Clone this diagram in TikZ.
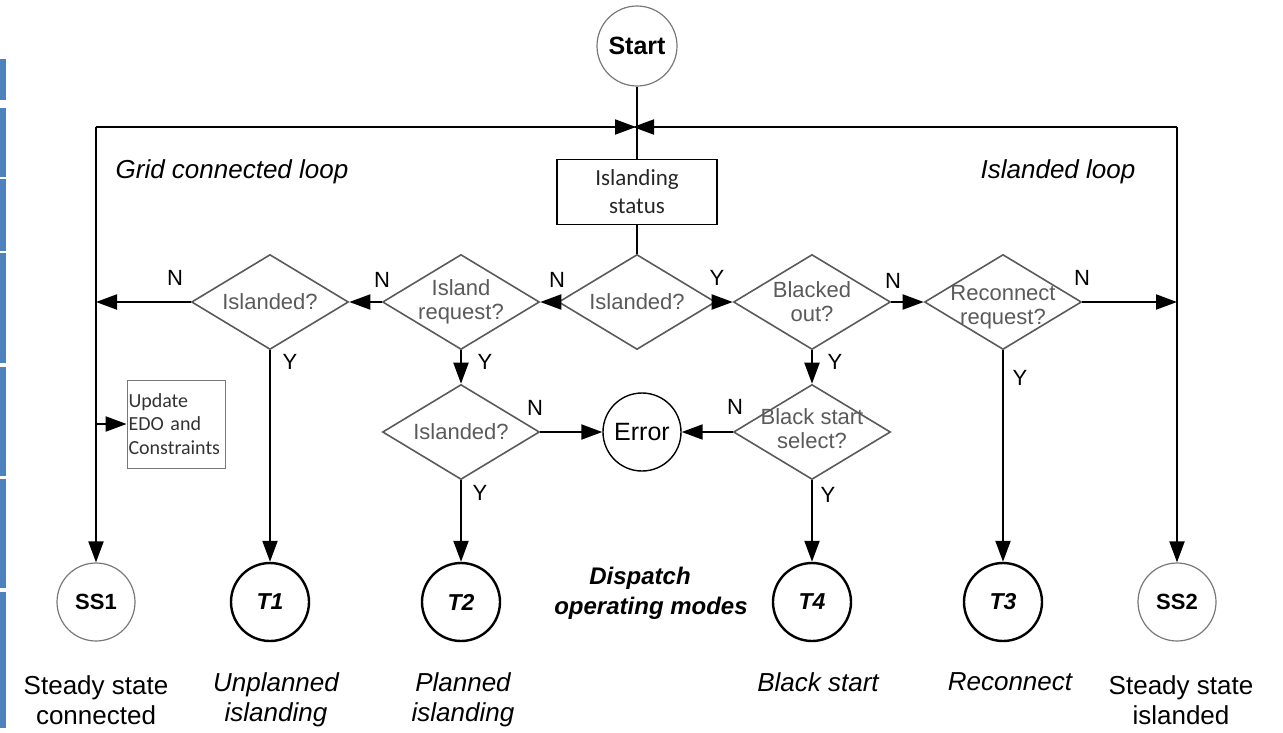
\documentclass[tikz,border=0pt]{standalone}
\usepackage{fontspec}
\setmainfont{Liberation Sans}
\newfontfamily\calib{Carlito}
\usetikzlibrary{shapes.geometric,arrows.meta}

\definecolor{stripblue}{RGB}{79,129,189}
\definecolor{diagray}{RGB}{90,90,90}
\definecolor{thingray}{RGB}{120,120,120}

\begin{document}
\begin{tikzpicture}[x=1pt,y=-1pt,
  flow/.style={line width=2pt,-{Triangle[length=21pt,width=15pt]}},
  plain/.style={line width=2pt},
  dia/.style={diamond,draw=diagray,line width=1.6pt,minimum width=157pt,minimum height=95pt,inner sep=0pt},
  diatext/.style={text=diagray,font=\fontsize{22}{24}\selectfont,align=center,inner sep=0pt},
  yn/.style={font=\fontsize{22}{24}\selectfont,inner sep=0pt},
  statecirc/.style={circle,draw=thingray,line width=1.2pt,minimum size=78pt,inner sep=0pt,font=\bfseries\fontsize{22}{24}\selectfont},
  modecirc/.style={circle,draw=black,line width=2.4pt,minimum size=78pt,inner sep=0pt,font=\bfseries\itshape\fontsize{23}{25}\selectfont},
  caption/.style={font=\fontsize{26}{30}\selectfont,align=center,inner sep=0pt},
  loopname/.style={font=\itshape\fontsize{26}{30}\selectfont,inner sep=0pt}
]
\useasboundingbox (0,0) rectangle (1283,732);

% blue side strip
\foreach \a/\b in {59/100,108/177,179/251,253/363,367/476,479/588,592/728}
  \fill[stripblue] (0,\a) rectangle (6,\b);

% entry and status
\node[circle,draw=thingray,line width=1.2pt,minimum size=80pt,inner sep=0pt,
      font=\bfseries\fontsize{25}{27}\selectfont] (start) at (637,46) {Start};
\node[draw=black,line width=1.8pt,minimum width=160pt,minimum height=65pt,inner sep=0pt,
      align=center,font=\calib\fontsize{23}{28}\selectfont,text=black!85] (status) at (637,192) {Islanding\\status};

% loop corners and junction
\coordinate (jn) at (637,127);
\coordinate (tl) at (96,127);
\coordinate (tr) at (1177,127);

% decision diamonds
\node[dia] (dL)  at (270,302) {};
\node[dia] (dIR) at (461,302) {};
\node[dia] (dM)  at (637,302) {};
\node[dia] (dBO) at (812,302) {};
\node[dia] (dRR) at (1003,302) {};
\node[dia] (dI2) at (461,432) {};
\node[dia] (dBS) at (812,432) {};

\node[diatext] at (dL)  {Islanded?};
\node[diatext] at (dIR) {Island\\request?};
\node[diatext] at (dM)  {Islanded?};
\node[diatext] at (dBO) {Blacked\\out?};
\node[diatext] at ([yshift=-5pt]dRR) {Reconnect\\request?};
\node[diatext] at (dI2) {Islanded?};
\node[diatext] at ([yshift=3pt]dBS) {Black start\\select?};

% error state
\node[circle,draw=black,line width=1.4pt,minimum size=78pt,inner sep=0pt,
      font=\fontsize{25}{27}\selectfont] (err) at (642,432) {Error};

% update box
\node[draw=thingray,line width=0.8pt,minimum width=98pt,minimum height=88pt,inner sep=1.5pt,
      text width=95pt,align=left,font=\calib\fontsize{20}{23.5}\selectfont,text=black!80] (upd) at (176,424)
      {Update\\EDO and\\Constraints};

% operating modes
\node[statecirc] (ss1) at (96,602) {SS1};
\node[modecirc]  (t1)  at (270,602) {T1};
\node[modecirc]  (t2)  at (461,602) {T2};
\node[modecirc]  (t4)  at (812,602) {T4};
\node[modecirc]  (t3)  at (1003,602) {T3};
\node[statecirc] (ss2) at (1177,602) {SS2};

% captions
\node[caption] (c1) at (96,700) {Steady state\\connected};
\node[caption,font=\itshape\fontsize{26}{30}\selectfont] (c2) at (276,700) {Unplanned\\islanding};
\node[caption,font=\itshape\fontsize{26}{30}\selectfont] (c3) at (463,700) {Planned\\islanding};
\node[caption,font=\itshape\fontsize{26}{30}\selectfont] (c4) at (818,682) {Black start};
\node[caption,font=\itshape\fontsize{26}{30}\selectfont] (c5) at (1010,682) {Reconnect};
\node[caption] (c6) at (1181,700) {Steady state\\islanded};

\node[loopname] (gl) at (232,172) {Grid connected loop};
\node[loopname] (il) at (1058,172) {Islanded loop};
\node[font=\bfseries\itshape\fontsize{24}{26}\selectfont,inner sep=0pt] (dp1) at (640,578) {Dispatch};
\node[font=\bfseries\itshape\fontsize{24}{26}\selectfont,inner sep=0pt] (dp2) at (651,608) {operating modes};

% connectors
\draw[plain] (start) -- (status);
\draw[plain] (status) -- (dM.north);
\draw[flow,shorten >=1pt] (tl) -- (jn);
\draw[flow,shorten >=-4pt] (tr) -- (jn);
\draw[flow] (tl) -- (ss1);
\draw[flow] (tr) -- (ss2);

\draw[flow] (dM.west) -- (dIR.east);
\draw[flow] (dM.east) -- (dBO.west);
\draw[flow] (dIR.west) -- (dL.east);
\draw[flow] (dL.west) -- (dL.west -| tl);
\draw[flow] (dBO.east) -- (dRR.west);
\draw[flow] (dRR.east) -- (dRR.east -| tr);
\draw[flow] (upd.west -| tl) -- (upd.west);

\draw[flow] (dL.south) -- (t1);
\draw[flow] (dIR.south) -- (dI2.north);
\draw[flow] (dBO.south) -- (dBS.north);
\draw[flow] (dI2.east) -- (err);
\draw[flow] (dBS.west) -- (err);
\draw[flow] (dI2.south) -- (t2);
\draw[flow] (dBS.south) -- (t4);
\draw[flow] (dRR.south) -- (t3);

% branch labels
\node[yn] at (175,278) {N};
\node[yn] at (290,362) {Y};
\node[yn] at (382,280) {N};
\node[yn] at (485,362) {Y};
\node[yn] at (557,280) {N};
\node[yn] at (717,278) {Y};
\node[yn] at (893,281) {N};
\node[yn] at (835,362) {Y};
\node[yn] at (1082,278) {N};
\node[yn] at (1020,378) {Y};
\node[yn] at (535,408) {N};
\node[yn] at (735,407) {N};
\node[yn] at (480,493) {Y};
\node[yn] at (828,495) {Y};
\end{tikzpicture}
\end{document}
